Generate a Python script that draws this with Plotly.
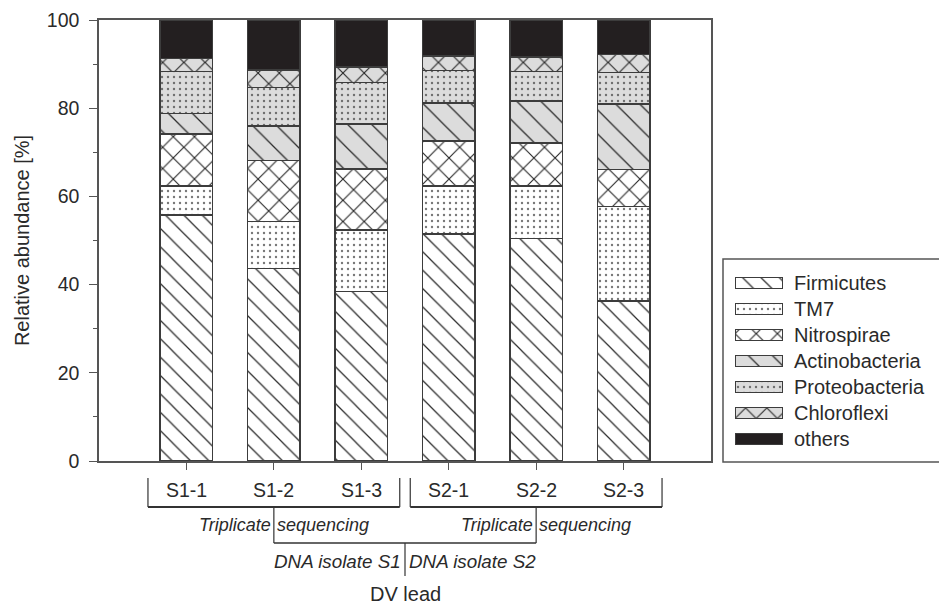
import plotly.graph_objects as go

# ---- data -------------------------------------------------------------
samples = ["S1-1", "S1-2", "S1-3", "S2-1", "S2-2", "S2-3"]
phyla = ["Firmicutes", "TM7", "Nitrospirae", "Actinobacteria",
         "Proteobacteria", "Chloroflexi", "others"]

firmicutes = [55.8, 43.7, 38.4, 51.5, 50.5, 36.3]
tm7 = [6.6, 10.6, 14.0, 10.9, 11.9, 21.4]
nitrospirae = [11.7, 13.8, 13.8, 10.2, 9.7, 8.4]
actinobacteria = [4.7, 7.9, 10.2, 8.6, 9.5, 14.8]
proteobacteria = [9.5, 8.7, 9.4, 7.4, 6.7, 7.2]
chloroflexi = [3.0, 4.0, 3.6, 3.2, 3.3, 4.1]
others = [8.7, 11.3, 10.6, 8.2, 8.4, 7.8]

series = [firmicutes, tm7, nitrospirae, actinobacteria,
          proteobacteria, chloroflexi, others]

y_ticks = [0, 20, 40, 60, 80, 100]

group_labels = ["Triplicate", "sequencing"]
isolate_labels = ["DNA isolate S1", "DNA isolate S2"]
root_label = "DV lead"
y_title = "Relative abundance [%]"

# ---- styles -------------------------------------------------------------
WHITE, GREY, BLACK = "#ffffff", "#dcdcdc", "#231f20"
styles = {
    "Firmicutes":     dict(bg=WHITE, shape="\\", fg="#2a2a2a", size=13, solidity=0.095),
    "TM7":            dict(bg=WHITE, shape=".", fg="#777777", size=6, solidity=0.12),
    "Nitrospirae":    dict(bg=WHITE, shape="x", fg="#2a2a2a", size=15, solidity=0.15),
    "Actinobacteria": dict(bg=GREY, shape="\\", fg="#2a2a2a", size=17, solidity=0.075),
    "Proteobacteria": dict(bg=GREY, shape=".", fg="#6e6e6e", size=6, solidity=0.12),
    "Chloroflexi":    dict(bg=GREY, shape="x", fg="#2a2a2a", size=15, solidity=0.15),
    "others":         dict(bg=BLACK, shape="", fg=BLACK, size=8, solidity=0.3),
}
EDGE = "#3c3c3c"
AXIS = "#555555"
TEXT = "#2a2a2a"
FONT = "Liberation Sans, Arial, sans-serif"

# ---- geometry helpers (pixels -> paper) --------------------------------
W, H = 939, 605
L, T, B, R = 99, 20, 144, 0
PW, PH = W - L - R, H - T - B


def px_x(px):
    return (px - L) / PW


def px_y(py):
    return 1 - (py - T) / PH


def marker_for(name):
    s = styles[name]
    return dict(
        color=s["bg"],
        line=dict(color=EDGE, width=1.5),
        pattern=dict(shape=s["shape"], fgcolor=s["fg"], bgcolor=s["bg"],
                     size=s["size"], solidity=s["solidity"], fillmode="replace"),
    )


fig = go.Figure()

# stacked bars
for name, vals in zip(phyla, series):
    fig.add_trace(go.Bar(
        x=samples, y=vals, name=name, width=0.6,
        marker=marker_for(name), showlegend=False,
        hovertemplate=name + " %{x}: %{y:.1f}%<extra></extra>",
    ))

# legend swatches drawn as horizontal bars on their own small axes
for name in phyla:
    fig.add_trace(go.Bar(
        x=[1], y=[name], orientation="h", width=0.42,
        marker=marker_for(name), showlegend=False, hoverinfo="skip",
        xaxis="x2", yaxis="y2",
    ))
    fig.add_annotation(
        x=1, y=name, xref="x2", yref="y2", text=name, showarrow=False,
        xanchor="left", yanchor="middle", xshift=9,
        font=dict(family=FONT, size=20, color=TEXT),
    )

shapes = []
# legend frame
shapes.append(dict(type="rect", xref="paper", yref="paper",
                   x0=px_x(723), x1=px_x(960), y0=px_y(462), y1=px_y(259),
                   line=dict(color=AXIS, width=1.5), fillcolor="rgba(0,0,0,0)",
                   layer="below"))


def seg(x0, y0, x1, y1, width=1.5):
    shapes.append(dict(type="line", xref="x", yref="paper",
                       x0=x0, x1=x1, y0=px_y(y0), y1=px_y(y1),
                       line=dict(color="#333333", width=width)))


# group brackets under the three replicates of each isolate
for c in (1, 4):
    left, right = c - 1.44, c + 1.44
    seg(left, 478, left, 507, 1.2)
    seg(right, 478, right, 507, 1.2)
    seg(left, 507, right, 507, 2)

# connector between the two isolates and the root stem
seg(1, 507, 1, 543, 1.2)
seg(4, 507, 4, 543, 1.2)
seg(1, 543, 4, 543, 1.5)
seg(2.5, 543, 2.5, 576, 1.2)

annotations = []
for s in samples:
    annotations.append(dict(x=s, y=px_y(490), xref="x", yref="paper", text=s,
                            showarrow=False, xanchor="center", yanchor="middle",
                            font=dict(family=FONT, size=19.5, color=TEXT)))
for c in (1, 4):
    annotations.append(dict(x=c, y=px_y(525), xref="x", yref="paper",
                            text="<i>%s</i>" % group_labels[0], showarrow=False,
                            xanchor="right", yanchor="middle", xshift=-1,
                            font=dict(family=FONT, size=18, color=TEXT)))
    annotations.append(dict(x=c, y=px_y(525), xref="x", yref="paper",
                            text="<i>%s</i>" % group_labels[1], showarrow=False,
                            xanchor="left", yanchor="middle", xshift=1,
                            font=dict(family=FONT, size=18, color=TEXT)))
annotations.append(dict(x=2.5, y=px_y(561), xref="x", yref="paper",
                        text="<i>%s</i>" % isolate_labels[0], showarrow=False,
                        xanchor="right", yanchor="middle", xshift=-2,
                        font=dict(family=FONT, size=18.8, color=TEXT)))
annotations.append(dict(x=2.5, y=px_y(561), xref="x", yref="paper",
                        text="<i>%s</i>" % isolate_labels[1], showarrow=False,
                        xanchor="left", yanchor="middle", xshift=2,
                        font=dict(family=FONT, size=18.8, color=TEXT)))
annotations.append(dict(x=2.5, y=px_y(594), xref="x", yref="paper",
                        text=root_label, showarrow=False,
                        xanchor="center", yanchor="middle",
                        font=dict(family=FONT, size=20, color=TEXT)))

fig.update_layout(
    width=W, height=H,
    margin=dict(l=L, r=R, t=T, b=B, pad=0),
    barmode="stack", bargap=0.4,
    paper_bgcolor="white", plot_bgcolor="white",
    font=dict(family=FONT, size=18, color=TEXT),
    shapes=shapes,
    annotations=list(fig.layout.annotations) + annotations,
    xaxis=dict(
        domain=[0, px_x(711)], range=[-1, 6],
        categoryorder="array", categoryarray=samples,
        showline=True, linecolor=AXIS, linewidth=1.5, mirror=True,
        ticks="outside", ticklen=7, tickwidth=1.2, tickcolor=AXIS,
        showticklabels=False, showgrid=False, zeroline=False, fixedrange=True,
    ),
    yaxis=dict(
        range=[0, 100], tickvals=y_ticks,
        showline=True, linecolor=AXIS, linewidth=1.5, mirror=True,
        ticks="outside", ticklen=8, tickwidth=1.2, tickcolor=AXIS,
        minor=dict(dtick=10, ticks="outside", ticklen=4, tickcolor=AXIS,
                   tickwidth=1, showgrid=False),
        ticklabelstandoff=6,
        tickfont=dict(family=FONT, size=19.5, color=TEXT),
        title=dict(text=y_title, standoff=12,
                   font=dict(family=FONT, size=20, color=TEXT)),
        showgrid=False, zeroline=False, fixedrange=True,
    ),
    xaxis2=dict(domain=[px_x(735), px_x(783)], range=[0, 1], anchor="y2",
                visible=False, fixedrange=True),
    yaxis2=dict(domain=[px_y(452), px_y(270)], anchor="x2", type="category",
                categoryorder="array", categoryarray=phyla, range=[6.5, -0.5],
                visible=False, fixedrange=True),
)

fig.write_html("out.html")
